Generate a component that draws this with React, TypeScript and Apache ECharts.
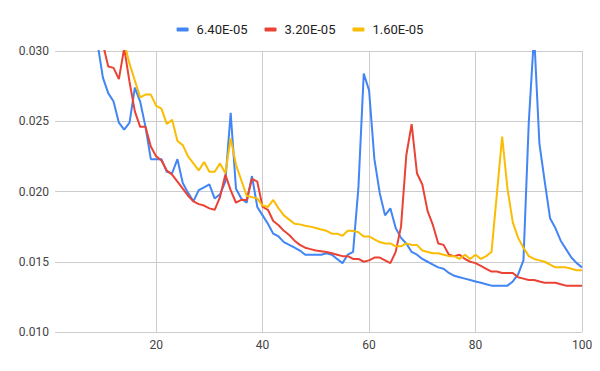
import React, { useEffect, useRef } from 'react';
import * as echarts from 'echarts';

const steps: number[] = Array.from({ length: 100 }, (_, i) => i + 1);
const seriesNames = ['6.40E-05', '3.20E-05', '1.60E-05'];
const xTicks = [20, 40, 60, 80, 100];

const blue = [
  0.062, 0.055, 0.048, 0.044, 0.041, 0.038, 0.035, 0.033, 0.0305, 0.0281,
  0.0270, 0.0264, 0.0249, 0.0244, 0.0249, 0.0274, 0.0264, 0.0246, 0.0223, 0.0223,
  0.0223, 0.0214, 0.0213, 0.0223, 0.0206, 0.0199, 0.0193, 0.0201, 0.0203, 0.0205,
  0.0195, 0.0198, 0.0207, 0.0256, 0.0202, 0.0195, 0.0192, 0.0211, 0.0189, 0.0183,
  0.0177, 0.0170, 0.0168, 0.0164, 0.0162, 0.0160, 0.0158, 0.0155, 0.0155, 0.0155,
  0.0155, 0.0156, 0.0155, 0.0152, 0.0149, 0.0155, 0.0157, 0.0203, 0.0284, 0.0272,
  0.0223, 0.0199, 0.0183, 0.0188, 0.0174, 0.0167, 0.0163, 0.0157, 0.0155, 0.0152,
  0.0150, 0.0148, 0.0146, 0.0145, 0.0142, 0.0140, 0.0139, 0.0138, 0.0137, 0.0136,
  0.0135, 0.0134, 0.0133, 0.0133, 0.0133, 0.0133, 0.0136, 0.0141, 0.0151, 0.0249,
  0.0312, 0.0234, 0.0207, 0.0181, 0.0174, 0.0165, 0.0159, 0.0153, 0.0149, 0.0146,
];

const red = [
  0.065, 0.058, 0.051, 0.046, 0.042, 0.039, 0.036, 0.034, 0.032, 0.0305,
  0.0289, 0.0288, 0.0280, 0.0302, 0.0278, 0.0257, 0.0246, 0.0246, 0.0232, 0.0225,
  0.0222, 0.0215, 0.0212, 0.0207, 0.0202, 0.0197, 0.0193, 0.0191, 0.0190, 0.0188,
  0.0187, 0.0196, 0.0212, 0.0201, 0.0192, 0.0194, 0.0194, 0.0209, 0.0207, 0.0189,
  0.0187, 0.0179, 0.0176, 0.0172, 0.0169, 0.0165, 0.0162, 0.0160, 0.0159, 0.0158,
  0.01575, 0.0157, 0.0156, 0.0155, 0.0154, 0.0154, 0.0152, 0.0152, 0.0150, 0.0151,
  0.0153, 0.0153, 0.0151, 0.0149, 0.0157, 0.0175, 0.0226, 0.0248, 0.0213, 0.0205,
  0.0186, 0.0176, 0.0163, 0.0162, 0.0155, 0.0154, 0.0155, 0.0152, 0.0150, 0.0149,
  0.0147, 0.0145, 0.0143, 0.0143, 0.0142, 0.0142, 0.0142, 0.0139, 0.0138, 0.0137,
  0.0137, 0.0136, 0.0135, 0.0135, 0.0135, 0.0134, 0.0133, 0.0133, 0.0133, 0.0133,
];

const yellow = [
  0.070, 0.063, 0.057, 0.052, 0.048, 0.045, 0.042, 0.040, 0.038, 0.036,
  0.034, 0.033, 0.032, 0.0306, 0.0291, 0.0279, 0.0267, 0.0269, 0.0269, 0.0261,
  0.0259, 0.0248, 0.0251, 0.0236, 0.0233, 0.0225, 0.0220, 0.0215, 0.0221, 0.0214,
  0.0214, 0.0220, 0.0213, 0.0238, 0.0219, 0.0208, 0.0197, 0.0196, 0.0195, 0.0190,
  0.0189, 0.0194, 0.0188, 0.0183, 0.0180, 0.0177, 0.01766, 0.01756, 0.0175, 0.0174,
  0.0173, 0.0172, 0.0170, 0.0170, 0.01685, 0.0172, 0.0172, 0.0171, 0.0168, 0.0168,
  0.0166, 0.0164, 0.0163, 0.0163, 0.0161, 0.0161, 0.0163, 0.0162, 0.0162, 0.0158,
  0.0157, 0.0156, 0.0156, 0.0155, 0.0154, 0.0154, 0.0152, 0.0155, 0.0152, 0.0155,
  0.0152, 0.0154, 0.0157, 0.0198, 0.0239, 0.0202, 0.0178, 0.0167, 0.0160, 0.0154,
  0.0152, 0.0151, 0.0150, 0.0148, 0.0146, 0.0146, 0.0146, 0.0145, 0.0144, 0.0144,
];

const colors = ['#4285F4', '#EA4335', '#FBBC04'];
const seriesValues = [blue, red, yellow];

export default function App() {
  const ref = useRef<HTMLDivElement>(null);
  useEffect(() => {
    document.body.style.margin = '0';
    const chart = echarts.init(ref.current!, null, { renderer: 'svg' });
    chart.setOption({
      animation: false,
      color: colors,
      textStyle: { fontFamily: 'Roboto' },
      legend: {
        top: 18,
        left: 'center',
        icon: 'roundRect',
        itemWidth: 12,
        itemHeight: 4,
        itemGap: 17,
        textStyle: { fontSize: 13, color: '#222', fontFamily: 'Roboto', padding: [0, 0, 0, 3] },
        data: seriesNames,
      },
      grid: { left: 55, right: 18, top: 51, bottom: 39, containLabel: false },
      xAxis: {
        type: 'value',
        min: 1,
        max: 100,
        axisLine: { show: false },
        axisTick: { show: false, customValues: xTicks },
        axisLabel: { customValues: xTicks, color: '#444', fontSize: 12, margin: 7, fontFamily: 'Roboto' },
        splitLine: { show: true, lineStyle: { color: '#cccccc', width: 1 } },
      },
      yAxis: {
        type: 'value',
        min: 0.01,
        max: 0.03,
        interval: 0.005,
        axisLine: { show: false },
        axisTick: { show: false },
        axisLabel: {
          color: '#444',
          fontSize: 12,
          margin: 6,
          fontFamily: 'Roboto',
          formatter: (v: number) => v.toFixed(3),
        },
        splitLine: { show: true, lineStyle: { color: '#cccccc', width: 1 } },
      },
      series: seriesNames.map((name, i) => ({
        name,
        type: 'line',
        data: steps.map((s, j) => [s, seriesValues[i][j]]),
        showSymbol: false,
        symbol: 'none',
        clip: true,
        lineStyle: { width: 2, color: colors[i] },
        itemStyle: { color: colors[i] },
      })),
    });
    return () => chart.dispose();
  }, []);
  return <div ref={ref} style={{ width: 600, height: 371 }} />;
}
